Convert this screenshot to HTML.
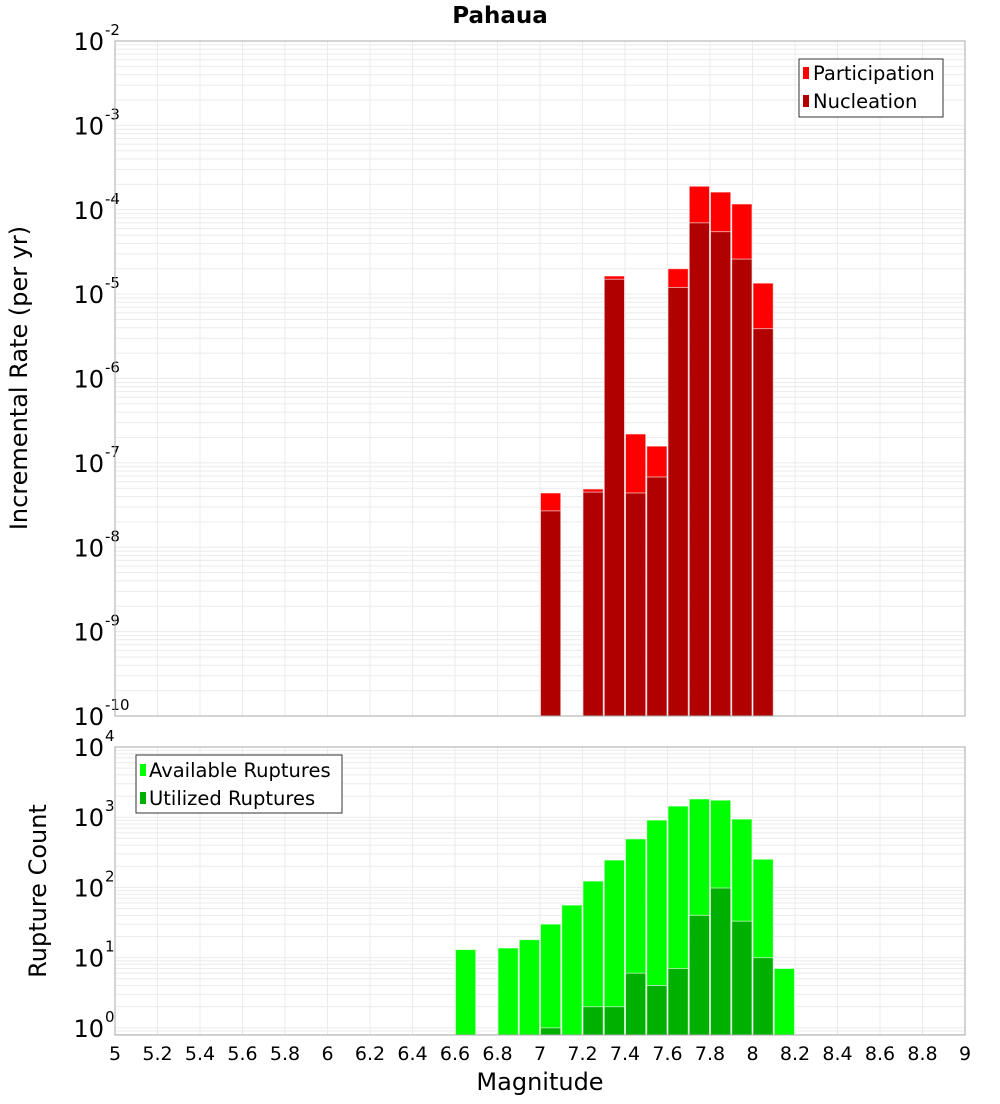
<!DOCTYPE html>
<html><head><meta charset="utf-8"><style>
body{margin:0;background:#fff;font-family:"DejaVu Sans","Liberation Sans",sans-serif;}
svg text{font-family:"DejaVu Sans","Liberation Sans",sans-serif;}
</style></head><body>
<svg id="chart" width="1000" height="1100" xmlns="http://www.w3.org/2000/svg">
<text x="500" y="23" text-anchor="middle" font-size="23" font-weight="bold">Pahaua</text>
<g id="g1"></g><g id="g2"></g>
</svg>
<script>
const rateMags=[7.0,7.2,7.3,7.4,7.5,7.6,7.7,7.8,7.9,8.0];
const participation=[4.4e-8,4.9e-8,1.64e-5,2.2e-7,1.58e-7,2.0e-5,1.9e-4,1.62e-4,1.17e-4,1.35e-5];
const nucleation=[2.7e-8,4.5e-8,1.5e-5,4.4e-8,6.8e-8,1.2e-5,7e-5,5.5e-5,2.6e-5,3.9e-6];
const countMags=[6.6,6.8,6.9,7.0,7.1,7.2,7.3,7.4,7.5,7.6,7.7,7.8,7.9,8.0,8.1];
const available=[13,13.7,18,30,56,123,245,490,910,1440,1820,1750,940,252,7];
const utilMags=[7.0,7.2,7.3,7.4,7.5,7.6,7.7,7.8,7.9,8.0];
const utilized=[1,2,2,6,4,7,40,98,33,10];
const xTicks=[5,5.2,5.4,5.6,5.8,6,6.2,6.4,6.6,6.8,7,7.2,7.4,7.6,7.8,8,8.2,8.4,8.6,8.8,9];

const NS="http://www.w3.org/2000/svg";
const L=115,R=965;
const xs=m=>L+(m-5)/4*(R-L);
function mk(p,t,a){const e=document.createElementNS(NS,t);for(const k in a)e.setAttribute(k,a[k]);p.appendChild(e);return e;}
function panel(g,top,bot,lmin,lmax,name){
  const ys=v=>bot-(Math.log10(v)-lmin)/(lmax-lmin)*(bot-top);
  for(let d=Math.floor(lmin);d<lmax;d++){for(let k=1;k<10;k++){const v=k*Math.pow(10,d);const lv=Math.log10(v);if(lv<lmin||lv>lmax)continue;
    const l=mk(g,'line',{x1:L,x2:R,y1:ys(v),y2:ys(v),stroke:'#ebebeb','stroke-width':1});
    
    }}
  xTicks.forEach(t=>{const l=mk(g,'line',{x1:xs(t),x2:xs(t),y1:top,y2:bot,stroke:'#ebebeb','stroke-width':1});
    
    });
  for(let d=Math.ceil(lmin);d<=Math.floor(lmax);d++){
    const y=ys(Math.pow(10,d));
    const t=mk(g,'text',{x:104,y:y+9,'text-anchor':'end','font-size':24});
    
    
    t.textContent='10';
    const s=mk(g,'text',{x:105,y:y-6,'font-size':15});
    
    
    s.textContent=String(d);
  }
  return ys;
}
function bar(g,m,v,ys,bot,fill,nm){
  const x=xs(m),w=xs(m+0.1)-x;const y=ys(v);
  const r=mk(g,'rect',{x:x+0.5,y:y,width:w-1,height:bot-y,fill:fill,stroke:'#fff','stroke-opacity':0.6,'stroke-width':1});
  
  
}
const g1=document.getElementById('g1');
const T1=41,B1=716;
const ys1=panel(g1,T1,B1,-10,-2,'rate');
rateMags.forEach((m,i)=>bar(g1,m,participation[i],ys1,B1,'#ff0000','participation-bar'));
rateMags.forEach((m,i)=>bar(g1,m,nucleation[i],ys1,B1,'#b00000','nucleation-bar'));
let f=mk(g1,'rect',{x:L,y:T1,width:R-L,height:B1-T1,fill:'none',stroke:'#aaa'});


const g2=document.getElementById('g2');
const T2=747,B2=1035;
const ys2=panel(g2,T2,B2,Math.log10(0.79),4,'count');
countMags.forEach((m,i)=>bar(g2,m,available[i],ys2,B2,'#00ff00','available-bar'));
utilMags.forEach((m,i)=>bar(g2,m,utilized[i],ys2,B2,'#00b000','utilized-bar'));
f=mk(g2,'rect',{x:L,y:T2,width:R-L,height:B2-T2,fill:'none',stroke:'#aaa'});


xTicks.forEach(t=>{const e=mk(g2,'text',{x:xs(t),y:1060,'text-anchor':'middle','font-size':19});
  
  
  e.textContent=String(t);});
</script>
<svg style="position:absolute;left:0;top:0" width="1000" height="1100" xmlns="http://www.w3.org/2000/svg">
<text x="540" y="1090" text-anchor="middle" font-size="24">Magnitude</text>
<text transform="translate(27,378) rotate(-90)" text-anchor="middle" font-size="24">Incremental Rate (per yr)</text>
<text transform="translate(46,891) rotate(-90)" text-anchor="middle" font-size="24">Rupture Count</text>
<g>
<rect x="799" y="59" width="144" height="58" fill="#fff" stroke="#333"/>
<rect x="803" y="67" width="6" height="12" fill="#ff0000"/>
<text x="813" y="80" font-size="19.5">Participation</text>
<rect x="803" y="95" width="6" height="12" fill="#b00000"/>
<text x="813" y="108" font-size="19.5">Nucleation</text>
</g>
<g>
<rect x="136" y="755" width="206" height="58" fill="#fff" stroke="#333"/>
<rect x="140" y="764" width="6" height="12" fill="#00ff00"/>
<text x="149" y="777" font-size="19.5">Available Ruptures</text>
<rect x="140" y="792" width="6" height="12" fill="#00b000"/>
<text x="149" y="805" font-size="19.5">Utilized Ruptures</text>
</g>
</svg>
</body></html>
